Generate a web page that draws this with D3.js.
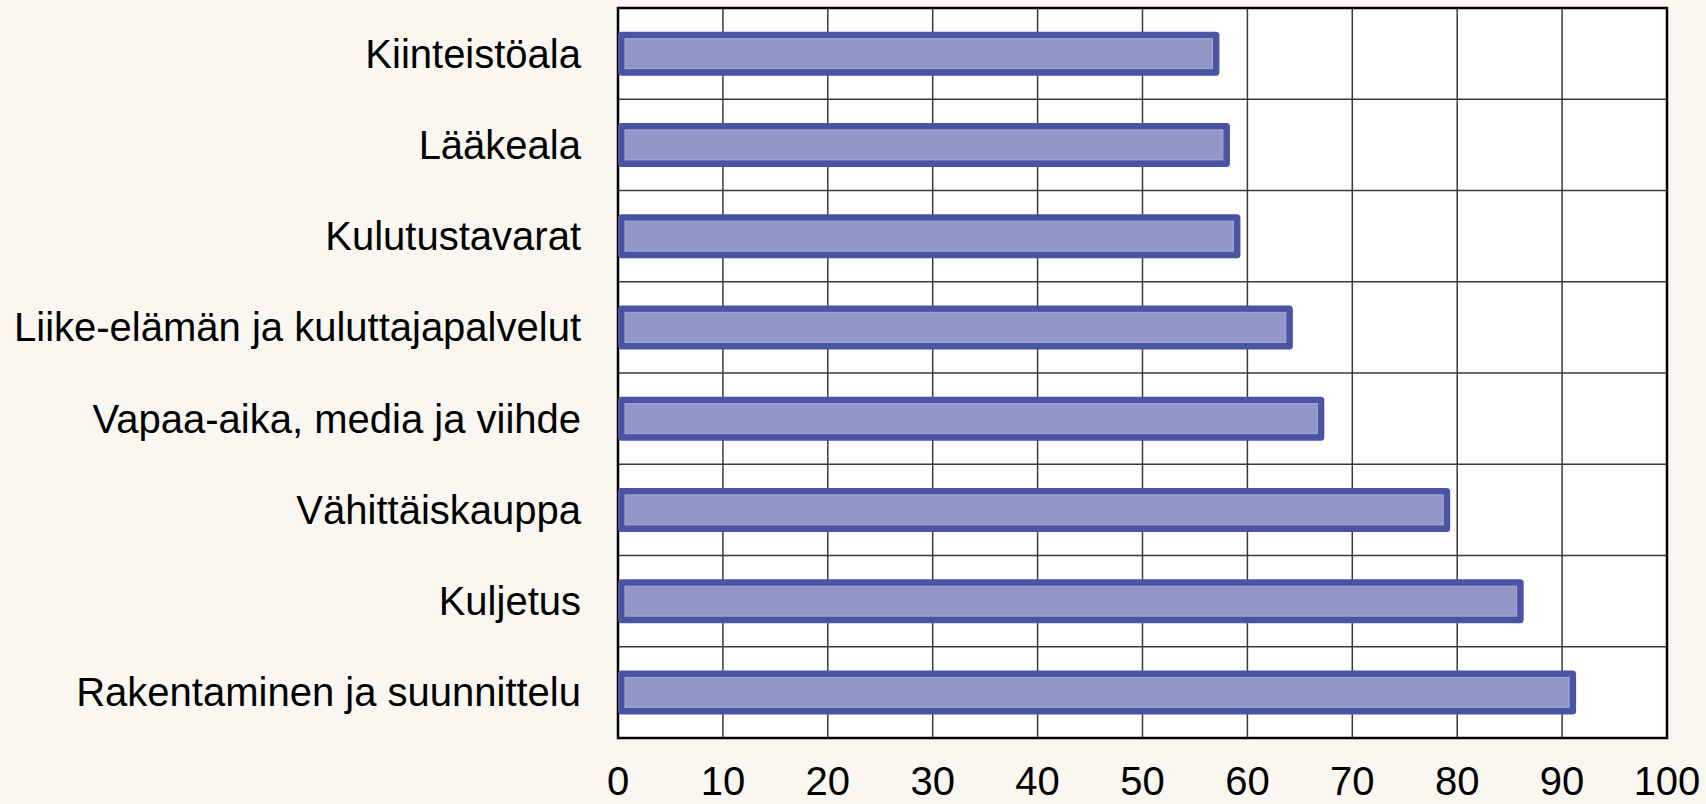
<!DOCTYPE html>
<html>
<head>
<meta charset="utf-8">
<script src="https://cdn.jsdelivr.net/npm/d3@7"></script>
<style>
  html, body { margin: 0; padding: 0; background: #faf6f0; }
  svg { display: block; }
  text { font-family: "Liberation Sans", Arial, sans-serif; fill: #000; }
</style>
</head>
<body>
<svg id="chart" width="1706" height="804"></svg>
<script>
const categories = [
  "Kiinteistöala",
  "Lääkeala",
  "Kulutustavarat",
  "Liike-elämän ja kuluttajapalvelut",
  "Vapaa-aika, media ja viihde",
  "Vähittäiskauppa",
  "Kuljetus",
  "Rakentaminen ja suunnittelu"
];
const values = [57, 58, 59, 64, 67, 79, 86, 91];
const xTicks = [0, 10, 20, 30, 40, 50, 60, 70, 80, 90, 100];

const W = 1706, H = 804;
const margin = { top: 8, right: 39, bottom: 66, left: 618 };
const svg = d3.select("#chart");

const x = d3.scaleLinear().domain([0, 100]).range([margin.left, W - margin.right]);
const y = d3.scaleBand().domain(categories).range([margin.top, H - margin.bottom]).paddingInner(0).paddingOuter(0);

// plot background
svg.append("rect")
  .attr("x", x(0)).attr("y", margin.top)
  .attr("width", x(100) - x(0)).attr("height", H - margin.bottom - margin.top)
  .attr("fill", "#ffffff");

// vertical gridlines
svg.append("g").selectAll("line").data(xTicks.slice(1, -1)).join("line")
  .attr("x1", d => x(d)).attr("x2", d => x(d))
  .attr("y1", margin.top).attr("y2", H - margin.bottom)
  .attr("stroke", "#3a3a3a").attr("stroke-width", 1.5);

// horizontal gridlines at band boundaries
svg.append("g").selectAll("line").data(categories.slice(1)).join("line")
  .attr("x1", x(0)).attr("x2", x(100))
  .attr("y1", d => y(d)).attr("y2", d => y(d))
  .attr("stroke", "#3a3a3a").attr("stroke-width", 1.5);

// border
svg.append("rect")
  .attr("x", x(0)).attr("y", margin.top)
  .attr("width", x(100) - x(0)).attr("height", H - margin.bottom - margin.top)
  .attr("fill", "none").attr("stroke", "#000").attr("stroke-width", 2.5);

// y ticks (inward)
svg.append("g").selectAll("line").data(categories).join("line")
  .attr("x1", x(0)).attr("x2", x(0) + 10)
  .attr("y1", d => y(d) + y.bandwidth() / 2).attr("y2", d => y(d) + y.bandwidth() / 2)
  .attr("stroke", "#000").attr("stroke-width", 1.5);

// bars
const sw = 7;
const barH = 37;
const bars = svg.append("g").selectAll("g").data(categories).join("g");
bars.append("rect")
  .attr("x", x(0) + sw / 2)
  .attr("y", d => y(d) + y.bandwidth() / 2 - barH / 2)
  .attr("width", (d, i) => x(values[i]) - x(0) - sw / 2)
  .attr("height", barH)
  .attr("fill", "#9297c9")
  .attr("stroke", "#4b54a3")
  .attr("stroke-width", sw)
  .attr("stroke-linejoin", "round");
bars.append("rect")
  .attr("x", x(0) + sw)
  .attr("y", d => y(d) + y.bandwidth() / 2 - barH / 2 + sw / 2)
  .attr("width", (d, i) => x(values[i]) - x(0) - sw * 1.5)
  .attr("height", barH - sw)
  .attr("fill", "none")
  .attr("stroke", "#a6abd6")
  .attr("stroke-width", 1);

// category labels
svg.append("g").selectAll("text").data(categories).join("text")
  .attr("x", 581)
  .attr("y", d => y(d) + y.bandwidth() / 2)
  .attr("dy", "0.35em")
  .attr("text-anchor", "end")
  .attr("font-size", 40)
  .text(d => d);

// x tick labels
svg.append("g").selectAll("text").data(xTicks).join("text")
  .attr("x", d => x(d))
  .attr("y", 795)
  .attr("text-anchor", "middle")
  .attr("font-size", 40)
  .text(d => d);
</script>
</body>
</html>
